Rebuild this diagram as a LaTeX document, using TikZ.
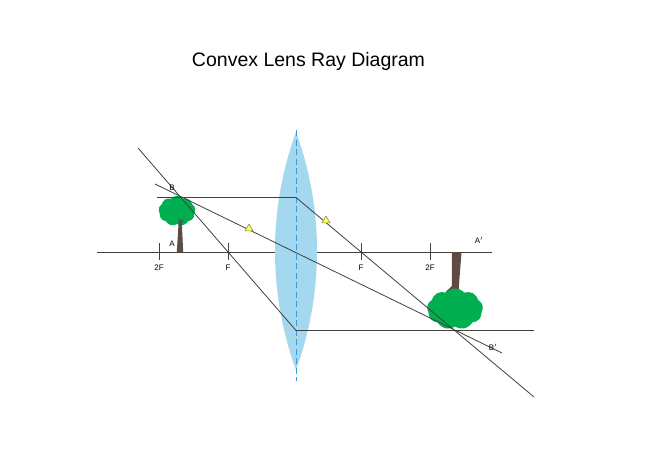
\documentclass[tikz,border=0pt]{standalone}
\usepackage{fontspec}
\setmainfont{Liberation Sans}
\usetikzlibrary{shapes.geometric,shapes.symbols}
\definecolor{lensblue}{HTML}{A3D8EF}
\definecolor{dashblue}{HTML}{3A9AD9}
\definecolor{linegray}{HTML}{404040}
\definecolor{leaf}{HTML}{00B050}
\definecolor{bark}{HTML}{5E4B43}
\definecolor{triyellow}{HTML}{FFFF66}
\definecolor{triedge}{HTML}{7A7A3A}
\tikzset{
  raystyle/.style={draw=linegray, line width=0.8pt},
  axisstyle/.style={draw=linegray, line width=1pt},
  tickstyle/.style={draw=linegray, line width=1pt},
  lbl/.style={font=\fontsize{8}{9}\selectfont, inner sep=0pt, text=black},
  crown/.style={cloud, cloud puffs=9, cloud puff arc=95, fill=leaf, draw=none, inner sep=0pt},
  marker/.style={regular polygon, regular polygon sides=3, fill=triyellow, draw=triedge, line width=0.5pt, minimum size=9pt, inner sep=0pt},
}
\begin{document}
\begin{tikzpicture}[x=1pt,y=-1pt]
\useasboundingbox[fill=white] (0,0) rectangle (650,460);
% title
\node[font=\fontsize{19.5}{22}\selectfont, inner sep=0pt] (title) at (308.5,61) {Convex Lens Ray Diagram};
% key points
\coordinate (axL) at (97,252.5);
\coordinate (axR) at (492,252.5);
\coordinate (lensT) at (296,132);
\coordinate (lensB) at (296,370);
\coordinate (dashT) at (296.5,130);
\coordinate (dashB) at (296.5,381);
\coordinate (r1s) at (157,197.5);
\coordinate (P1) at (296,197.5);
\coordinate (r1e) at (534,397);
\coordinate (r2s) at (155,184);
\coordinate (r2e) at (502,353);
\coordinate (r3s) at (138,148);
\coordinate (P3) at (296,330.5);
\coordinate (r3e) at (534,330.5);
% axis
\draw[axisstyle] (axL) -- (axR);
% ticks
\foreach \n/\x in {tA/159.5,tB/228.5,tC/361.5,tD/430.5}{
  \coordinate (\n u) at (\x,243);
  \coordinate (\n d) at (\x,260);
  \draw[tickstyle] (\n u) -- (\n d);
}
% object tree
\node[crown, minimum width=37pt, minimum height=30pt] (crownL) at (177,211) {};
\fill[bark] (176.8,252) -- (183.2,252) -- (181.8,223) -- (183.5,219) -- (180.5,221) -- (178.5,218) -- (178.6,223) -- cycle;
% image tree (inverted)
\fill[bark] (451.8,252) -- (461.5,252) -- (458.8,287) -- (459.5,293) -- (455.5,290) -- (449,293.5) -- (445.5,292) -- (452,286) -- cycle;
\node[crown, minimum width=56pt, minimum height=41pt] (crownR) at (455,309) {};
% lens
\fill[lensblue] (lensT) .. controls (324,209) and (324,293) .. (lensB)
   .. controls (268,293) and (268,209) .. (lensT) -- cycle;
\draw[dashblue, line width=0.9pt, dash pattern=on 6pt off 3.5pt] (dashT) -- (dashB);
% rays
\draw[raystyle] (r1s) -- (P1) -- (r1e);
\draw[raystyle] (r2s) -- (r2e);
\draw[raystyle] (r3s) -- (P3) -- (r3e);
% direction markers
\node[marker] (tri1) at (249,228.5) {};
\node[marker] (tri2) at (326,220.5) {};
% labels
\node[lbl] (l2FL) at (159,268) {2F};
\node[lbl] (lFL) at (228,268) {F};
\node[lbl] (lFR) at (361,268) {F};
\node[lbl] (l2FR) at (430,268) {2F};
\node[lbl] (lA) at (172,244) {A};
\node[lbl] (lB) at (172,188) {B};
\node[lbl] (lAp) at (479,240) {A$'$};
\node[lbl] (lBp) at (493,347) {B$'$};
\end{tikzpicture}
\end{document}
